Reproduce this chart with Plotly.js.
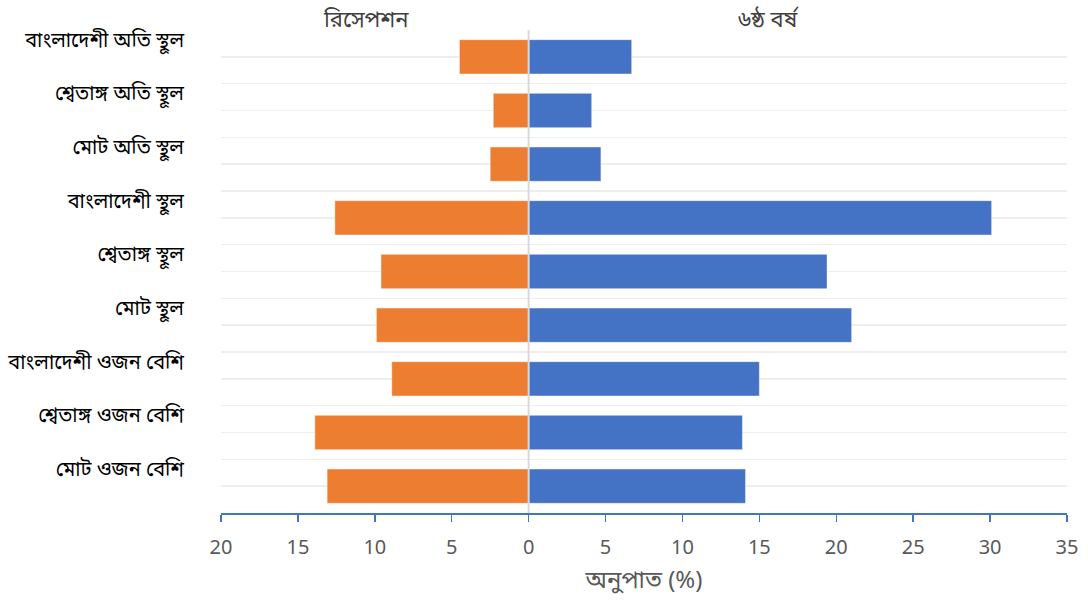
<!DOCTYPE html>
<html>
<head>
<meta charset="utf-8">
<script src="https://cdn.plot.ly/plotly-3.0.1.min.js"></script>
<style>
  html, body { margin: 0; padding: 0; background: #ffffff; }
  #chart { width: 1088px; height: 601px; }
</style>
</head>
<body>
<div id="chart"></div>
<script>
// Categories, top to bottom
const categories = [
  'বাংলাদেশী অতি স্থূল',
  'শ্বেতাঙ্গ অতি স্থূল',
  'মোট অতি স্থূল',
  'বাংলাদেশী স্থূল',
  'শ্বেতাঙ্গ স্থূল',
  'মোট স্থূল',
  'বাংলাদেশী ওজন বেশি',
  'শ্বেতাঙ্গ ওজন বেশি',
  'মোট ওজন বেশি'
];

// Prevalence (%) — reception year (drawn to the left) and year 6 (to the right)
const receptionValues = [4.5, 2.3, 2.5, 12.6, 9.6, 9.9, 8.9, 13.9, 13.1];
const year6Values = [6.7, 4.1, 4.7, 30.1, 19.4, 21.0, 15.0, 13.9, 14.1];

const seriesNames = ['রিসেপশন', '৬ষ্ঠ বর্ষ'];
const xTickValues = [-20, -15, -10, -5, 0, 5, 10, 15, 20, 25, 30, 35];
const xTickLabels = ['20', '15', '10', '5', '0', '5', '10', '15', '20', '25', '30', '35'];
const xAxisTitle = 'অনুপাত (%)';

const FONT = '"Noto Sans", "Noto Sans Bengali", "Lohit Bengali", sans-serif';

const pos = categories.map((_, i) => i);
// category labels sit a little above the bar they belong to
const labelPos = pos.map(p => p - 0.32);

const traces = [
  {
    type: 'bar',
    orientation: 'h',
    name: seriesNames[0],
    y: pos,
    x: receptionValues.map(v => -v),
    width: 0.64,
    marker: { color: '#ED7D31', line: { color: 'rgba(255,255,255,0.45)', width: 1 } },
    hoverinfo: 'skip'
  },
  {
    type: 'bar',
    orientation: 'h',
    name: seriesNames[1],
    y: pos,
    x: year6Values,
    width: 0.64,
    marker: { color: '#4472C4', line: { color: 'rgba(255,255,255,0.45)', width: 1 } },
    hoverinfo: 'skip'
  }
];

const layout = {
  width: 1088,
  height: 601,
  margin: { l: 221, r: 21, t: 30, b: 88, pad: 0 },
  paper_bgcolor: '#ffffff',
  plot_bgcolor: '#ffffff',
  showlegend: false,
  barmode: 'overlay',
  font: { family: FONT, color: '#000000' },
  xaxis: {
    range: [-20, 35],
    tickmode: 'array',
    tickvals: xTickValues,
    ticktext: xTickLabels,
    showgrid: false,
    zeroline: false,
    showline: true,
    linecolor: '#4472C4',
    linewidth: 1.5,
    ticks: 'outside',
    ticklen: 7,
    tickwidth: 1.5,
    tickcolor: '#4472C4',
    ticklabelstandoff: 8,
    tickfont: { size: 20, color: '#595959', family: FONT },
    title: { text: xAxisTitle, font: { size: 24, color: '#595959', family: FONT }, standoff: 12 },
    fixedrange: true
  },
  yaxis: {
    range: [8.5, -0.5],
    tickmode: 'array',
    tickvals: labelPos,
    ticktext: categories,
    showgrid: false,
    zeroline: false,
    showline: false,
    ticks: '',
    ticklabelstandoff: 36,
    tickfont: { size: 20, color: '#000000', family: FONT },
    minor: {
      tickmode: 'linear',
      tick0: -0.5,
      dtick: 0.5,
      showgrid: true,
      gridcolor: '#eeeeee',
      gridwidth: 1.5,
      ticks: ''
    },
    fixedrange: true
  },
  shapes: [
    {
      type: 'line',
      xref: 'x', yref: 'paper',
      x0: 0, x1: 0, y0: 0, y1: 1,
      line: { color: '#d9d9d9', width: 2 },
      layer: 'above'
    }
  ],
  annotations: [
    {
      text: seriesNames[0],
      xref: 'x', yref: 'paper',
      x: -10.6, y: 1,
      yanchor: 'bottom', xanchor: 'center',
      yshift: -5,
      showarrow: false,
      font: { size: 22, color: '#404040', family: FONT }
    },
    {
      text: seriesNames[1],
      xref: 'x', yref: 'paper',
      x: 15.6, y: 1,
      yanchor: 'bottom', xanchor: 'center',
      yshift: -5,
      showarrow: false,
      font: { size: 22, color: '#404040', family: FONT }
    }
  ]
};

Plotly.newPlot('chart', traces, layout, { staticPlot: true, displayModeBar: false });
</script>
</body>
</html>
